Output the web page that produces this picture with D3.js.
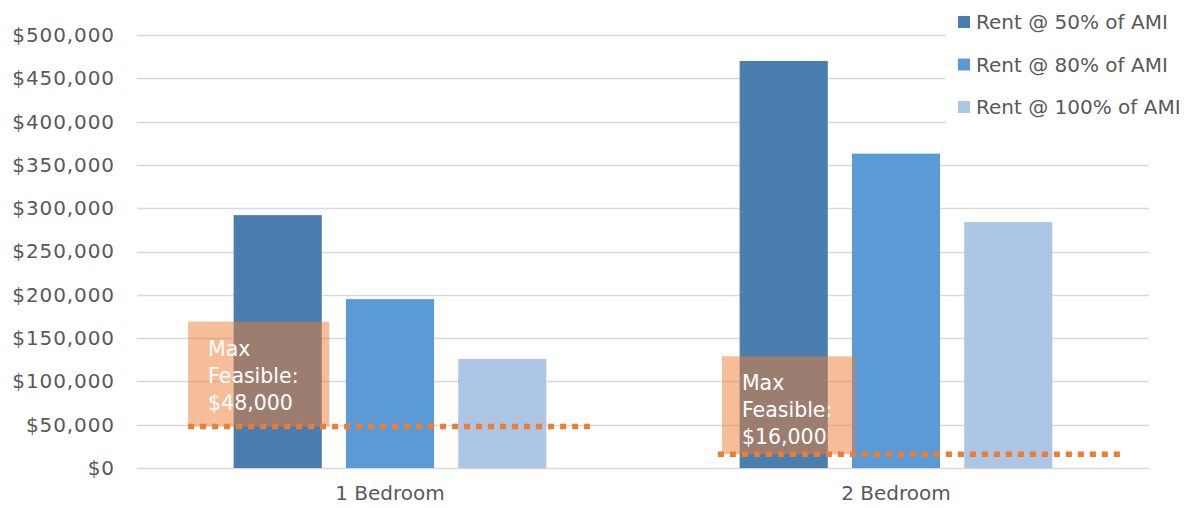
<!DOCTYPE html>
<html>
<head>
<meta charset="utf-8">
<script src="https://cdn.jsdelivr.net/npm/d3@7"></script>
<style>
  html, body { margin: 0; padding: 0; background: #ffffff; }
  svg { display: block; font-family: "DejaVu Sans", "Liberation Sans", sans-serif; }
</style>
</head>
<body>
<svg id="chart" width="1184" height="508"></svg>
<script>
// Unit types on the x axis
const categories = ["1 Bedroom", "2 Bedroom"];
// Rent scenarios (series)
const seriesNames = ["Rent @ 50% of AMI", "Rent @ 80% of AMI", "Rent @ 100% of AMI"];
const seriesColors = ["#4A7EAE", "#5B9BD5", "#ADC6E5"];
// Values per series, one entry per category
const rent50 = [292000, 470000];
const rent80 = [195000, 363000];
const rent100 = [126000, 284000];
// Y axis ticks
const yTicks = [0, 50000, 100000, 150000, 200000, 250000, 300000, 350000, 400000, 450000, 500000];
// Max feasible value per category and the top of its callout box
const maxFeasible = [48000, 16000];
const calloutTop = [169000, 129000];

const seriesValues = [rent50, rent80, rent100];

const svg = d3.select("#chart");
const plot = { left: 137, right: 1149, top: 35, bottom: 468 };

const y = d3.scaleLinear().domain([0, 500000]).range([plot.bottom, plot.top]);
const x0 = d3.scaleBand().domain(categories).range([plot.left, plot.right]).padding(0);
const bw = x0.bandwidth();
const x1 = d3.scaleBand().domain(seriesNames)
  .range([bw * 0.191, bw * 0.809]).paddingInner(0.215).paddingOuter(0);

// Gridlines
const grid = svg.append("g");
grid.selectAll("line").data(yTicks).join("line")
  .attr("x1", plot.left).attr("x2", plot.right)
  .attr("y1", d => Math.round(y(d)) + 0.5).attr("y2", d => Math.round(y(d)) + 0.5)
  .attr("stroke", "#d9d9d9").attr("stroke-width", 1.5);

// Y axis labels
const fmt = d3.format("$,.0f");
const yAxis = d3.axisLeft(y).tickValues(yTicks).tickFormat(fmt).tickSize(0).tickPadding(22);
const yg = svg.append("g").attr("transform", `translate(${plot.left},0)`).call(yAxis);
yg.select(".domain").remove();
yg.selectAll("text")
  .attr("fill", "#595959").attr("font-size", "20px")
  .attr("letter-spacing", "0.9px")
  .attr("font-family", "DejaVu Sans, sans-serif");

// Bars
const groups = svg.append("g").selectAll("g").data(categories).join("g")
  .attr("transform", d => `translate(${x0(d)},0)`);
groups.selectAll("rect")
  .data((c, ci) => seriesNames.map((s, si) => ({ s, si, v: seriesValues[si][ci] })))
  .join("rect")
  .attr("x", d => x1(d.s))
  .attr("width", x1.bandwidth())
  .attr("y", d => y(d.v))
  .attr("height", d => y(0) - y(d.v))
  .attr("fill", d => seriesColors[d.si]);

// X axis labels
const xAxis = d3.axisBottom(x0).tickSize(0).tickPadding(18);
const xg = svg.append("g").attr("transform", `translate(0,${plot.bottom})`).call(xAxis);
xg.select(".domain").remove();
xg.selectAll("text")
  .attr("fill", "#595959").attr("font-size", "20px")
  .attr("font-family", "DejaVu Sans, sans-serif");

// Max feasible callouts: box, dotted line, label
const callouts = [
  { box: [0.101, 0.380], line: [0.101, 0.895] },
  { box: [0.156, 0.419], line: [0.148, 0.943] }
];
categories.forEach((c, i) => {
  const bx = x0(c);
  const co = callouts[i];
  svg.append("rect")
    .attr("x", bx + bw * co.box[0])
    .attr("width", bw * (co.box[1] - co.box[0]))
    .attr("y", y(calloutTop[i]))
    .attr("height", y(maxFeasible[i]) - y(calloutTop[i]))
    .attr("fill", "#ED7D31").attr("fill-opacity", 0.5);
  svg.append("line")
    .attr("x1", bx + bw * co.line[0]).attr("x2", bx + bw * co.line[1])
    .attr("y1", y(maxFeasible[i])).attr("y2", y(maxFeasible[i]))
    .attr("stroke", "#ED7D31").attr("stroke-width", 5.5)
    .attr("stroke-dasharray", "6 6");
  const t = svg.append("text")
    .attr("x", bx + bw * co.box[0] + 20)
    .attr("y", y(calloutTop[i]) + 34)
    .attr("fill", "#ffffff").attr("font-size", "20.5px");
  ["Max", "Feasible:", fmt(maxFeasible[i])].forEach((line, k) => {
    t.append("tspan").attr("x", bx + bw * co.box[0] + 20).attr("dy", k === 0 ? 0 : 27).text(line);
  });
});

// Legend
const legend = svg.append("g");
legend.append("rect").attr("x", 946).attr("y", 0).attr("width", 238).attr("height", 130).attr("fill", "#ffffff");
const li = legend.selectAll("g.item").data(seriesNames).join("g").attr("class", "item")
  .attr("transform", (d, i) => `translate(958,${22 + i * 42.5})`);
li.append("rect").attr("x", 0).attr("y", -6).attr("width", 12).attr("height", 12)
  .attr("fill", (d, i) => seriesColors[i]);
li.append("text").attr("x", 18).attr("y", 0).attr("dy", "0.36em")
  .attr("fill", "#595959").attr("font-size", "20px").text(d => d);
</script>
</body>
</html>
